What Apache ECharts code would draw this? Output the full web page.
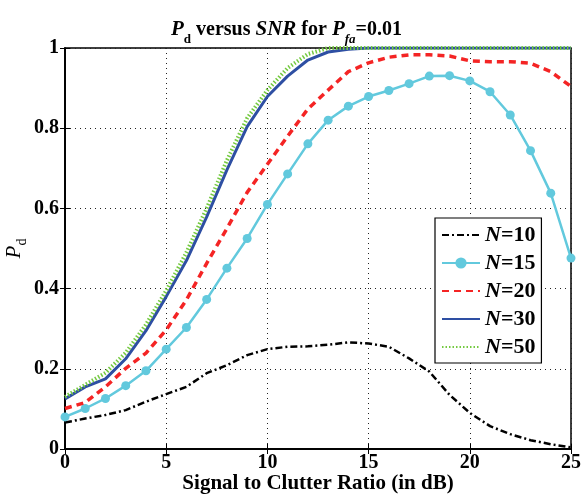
<!DOCTYPE html>
<html><head><meta charset="utf-8">
<script src="https://cdn.jsdelivr.net/npm/echarts@6/dist/echarts.min.js"></script>
<style>html,body{margin:0;padding:0;background:#fff}#c{width:581px;height:496px}</style>
</head><body><div id="c"></div>
<script>
var snr = [0,1,2,3,4,5,6,7,8,9,10,11,12,13,14,15,16,17,18,19,20,21,22,23,24,25];
var xTicks = [0,5,10,15,20,25];
var yTicks = [0,0.2,0.4,0.6,0.8,1];
var n10 = [0.066,0.076,0.085,0.097,0.118,0.137,0.155,0.189,0.209,0.234,0.249,0.255,0.256,0.26,0.266,0.263,0.255,0.226,0.193,0.135,0.09,0.057,0.037,0.022,0.012,0.004];
var n15 = [0.08,0.101,0.126,0.158,0.195,0.249,0.303,0.373,0.451,0.525,0.61,0.686,0.761,0.82,0.855,0.879,0.894,0.911,0.93,0.931,0.918,0.891,0.833,0.744,0.638,0.476];
var n20 = [0.101,0.116,0.155,0.201,0.239,0.297,0.372,0.463,0.55,0.64,0.71,0.78,0.848,0.895,0.941,0.963,0.977,0.983,0.983,0.98,0.968,0.966,0.966,0.962,0.941,0.904];
var n30 = [0.125,0.155,0.175,0.225,0.295,0.38,0.47,0.579,0.696,0.804,0.879,0.93,0.97,0.99,0.997,1,1,1,1,1,1,1,1,1,1,1];
var n50 = [0.13,0.16,0.19,0.24,0.31,0.395,0.49,0.6,0.72,0.825,0.895,0.95,0.985,1,1,1,1,1,1,1,1,1,1,1,1,1];
var names = ['N=10','N=15','N=20','N=30','N=50'];

function pairs(a){ return snr.map(function(x,i){ return [x,a[i]]; }); }
var serif = 'Liberation Serif';
var chart = echarts.init(document.getElementById('c'), null, {renderer:'canvas'});
var gridSplit = {show:true, lineStyle:{color:'#222', type:[1,4], width:1}};
var noSym = {opacity:0};
chart.setOption({
  animation:false,
  backgroundColor:'#fff',
  title:{
    text:'{i|P}{s|d}{n| versus }{i|SNR}{n| for }{i|P}{si|fa}{n|=0.01}',
    left:166, top:13,
    textStyle:{
      fontFamily:serif, fontSize:20, color:'#000', fontWeight:'bold',
      rich:{
        i:{fontFamily:serif, fontStyle:'italic', fontWeight:'bold', fontSize:21, color:'#000', lineHeight:24},
        s:{fontFamily:serif, fontSize:13, fontWeight:'bold', color:'#000', verticalAlign:'bottom', lineHeight:24, padding:[0,0,-4,0]},
        si:{fontFamily:serif, fontSize:13, fontWeight:'bold', fontStyle:'italic', color:'#000', verticalAlign:'bottom', lineHeight:24, padding:[0,0,-4,0]},
        n:{fontFamily:serif, fontSize:20, fontWeight:'bold', color:'#000', lineHeight:24}
      }
    }
  },
  grid:{left:65, right:10, top:48, bottom:47, outerBoundsMode:'none', containLabel:false,
        show:true, borderColor:'#000', borderWidth:1.5, backgroundColor:'transparent'},
  legend:{
    orient:'vertical', left:435, top:218,
    backgroundColor:'#fff', borderColor:'#000', borderWidth:1.2,
    padding:[6,6,5,6], itemWidth:38, itemHeight:14, itemGap:6,
    data:[
      {name:names[0], itemStyle:noSym},
      {name:names[1]},
      {name:names[2], itemStyle:noSym},
      {name:names[3], itemStyle:noSym},
      {name:names[4], itemStyle:noSym}
    ],
    formatter:function(n){ return '{i|N}{t|' + n.slice(1) + '}'; },
    textStyle:{
      fontFamily:serif, fontSize:22, color:'#000',
      rich:{
        i:{fontFamily:serif, fontStyle:'italic', fontWeight:'bold', fontSize:22, color:'#000', lineHeight:21},
        t:{fontFamily:serif, fontWeight:'bold', fontSize:22, color:'#000', lineHeight:21}
      }
    }
  },
  xAxis:[{
    type:'value', min:0, max:25, interval:5, position:'bottom',
    name:'Signal to Clutter Ratio (in dB)', nameLocation:'middle', nameGap:24, nameMoveOverlap:false,
    nameTextStyle:{fontFamily:serif, fontSize:21, fontWeight:'bold', color:'#000'},
    axisLine:{show:true, lineStyle:{color:'#000', width:1.5}},
    axisTick:{show:true, inside:true, length:5, lineStyle:{color:'#000'}},
    axisLabel:{fontFamily:serif, fontSize:20, fontWeight:'bold', color:'#000', margin:4,
      formatter:function(v){ return xTicks.indexOf(v)>=0 ? String(v) : ''; }},
    splitLine:gridSplit
  },{
    type:'value', min:0, max:25, interval:5, position:'top',
    axisLine:{show:true, lineStyle:{color:'#000', width:1.5}},
    axisTick:{show:true, inside:true, length:5, lineStyle:{color:'#000'}},
    axisLabel:{show:false}, splitLine:{show:false}
  }],
  yAxis:[{
    type:'value', min:0, max:1, interval:0.2, position:'left',
    name:'{i|P}{s|d}', nameLocation:'middle', nameGap:40, nameRotate:90, nameMoveOverlap:false,
    nameTextStyle:{fontFamily:serif, fontSize:20, color:'#000',
      rich:{
        i:{fontFamily:serif, fontStyle:'italic', fontSize:21, color:'#000', lineHeight:22},
        s:{fontFamily:serif, fontSize:14, color:'#000', verticalAlign:'bottom', lineHeight:22, padding:[0,0,-4,0]}
      }},
    axisLine:{show:true, lineStyle:{color:'#000', width:1.5}},
    axisTick:{show:true, inside:true, length:5, lineStyle:{color:'#000'}},
    axisLabel:{fontFamily:serif, fontSize:20, fontWeight:'bold', color:'#000', margin:6,
      formatter:function(v){ return yTicks.indexOf(Math.round(v*10)/10)>=0 ? String(Math.round(v*10)/10) : ''; }},
    splitLine:gridSplit
  },{
    type:'value', min:0, max:1, interval:0.2, position:'right',
    axisLine:{show:true, lineStyle:{color:'#000', width:1.5}},
    axisTick:{show:true, inside:true, length:5, lineStyle:{color:'#000'}},
    axisLabel:{show:false}, splitLine:{show:false}
  }],
  series:[
    {name:names[0], type:'line', data:pairs(n10), symbol:'none',
      lineStyle:{color:'#000', width:2.5, type:[7,3,2,3]}, itemStyle:{color:'#000'}, z:3},
    {name:names[1], type:'line', data:pairs(n15), symbol:'circle', symbolSize:9,
      lineStyle:{color:'#62c9dd', width:2.5}, itemStyle:{color:'#62c9dd'}, z:4},
    {name:names[2], type:'line', data:pairs(n20), symbol:'none',
      lineStyle:{color:'#f42424', width:3.5, type:[7,5]}, itemStyle:{color:'#f42424'}, z:5},
    {name:names[3], type:'line', data:pairs(n30), symbol:'none',
      lineStyle:{color:'#2e4fa3', width:3}, itemStyle:{color:'#2e4fa3'}, z:6},
    {name:names[4], type:'line', data:pairs(n50), symbol:'none',
      lineStyle:{color:'#74c940', width:4, type:[1.5,2]}, itemStyle:{color:'#74c940'}, z:7}
  ]
});
</script></body></html>
